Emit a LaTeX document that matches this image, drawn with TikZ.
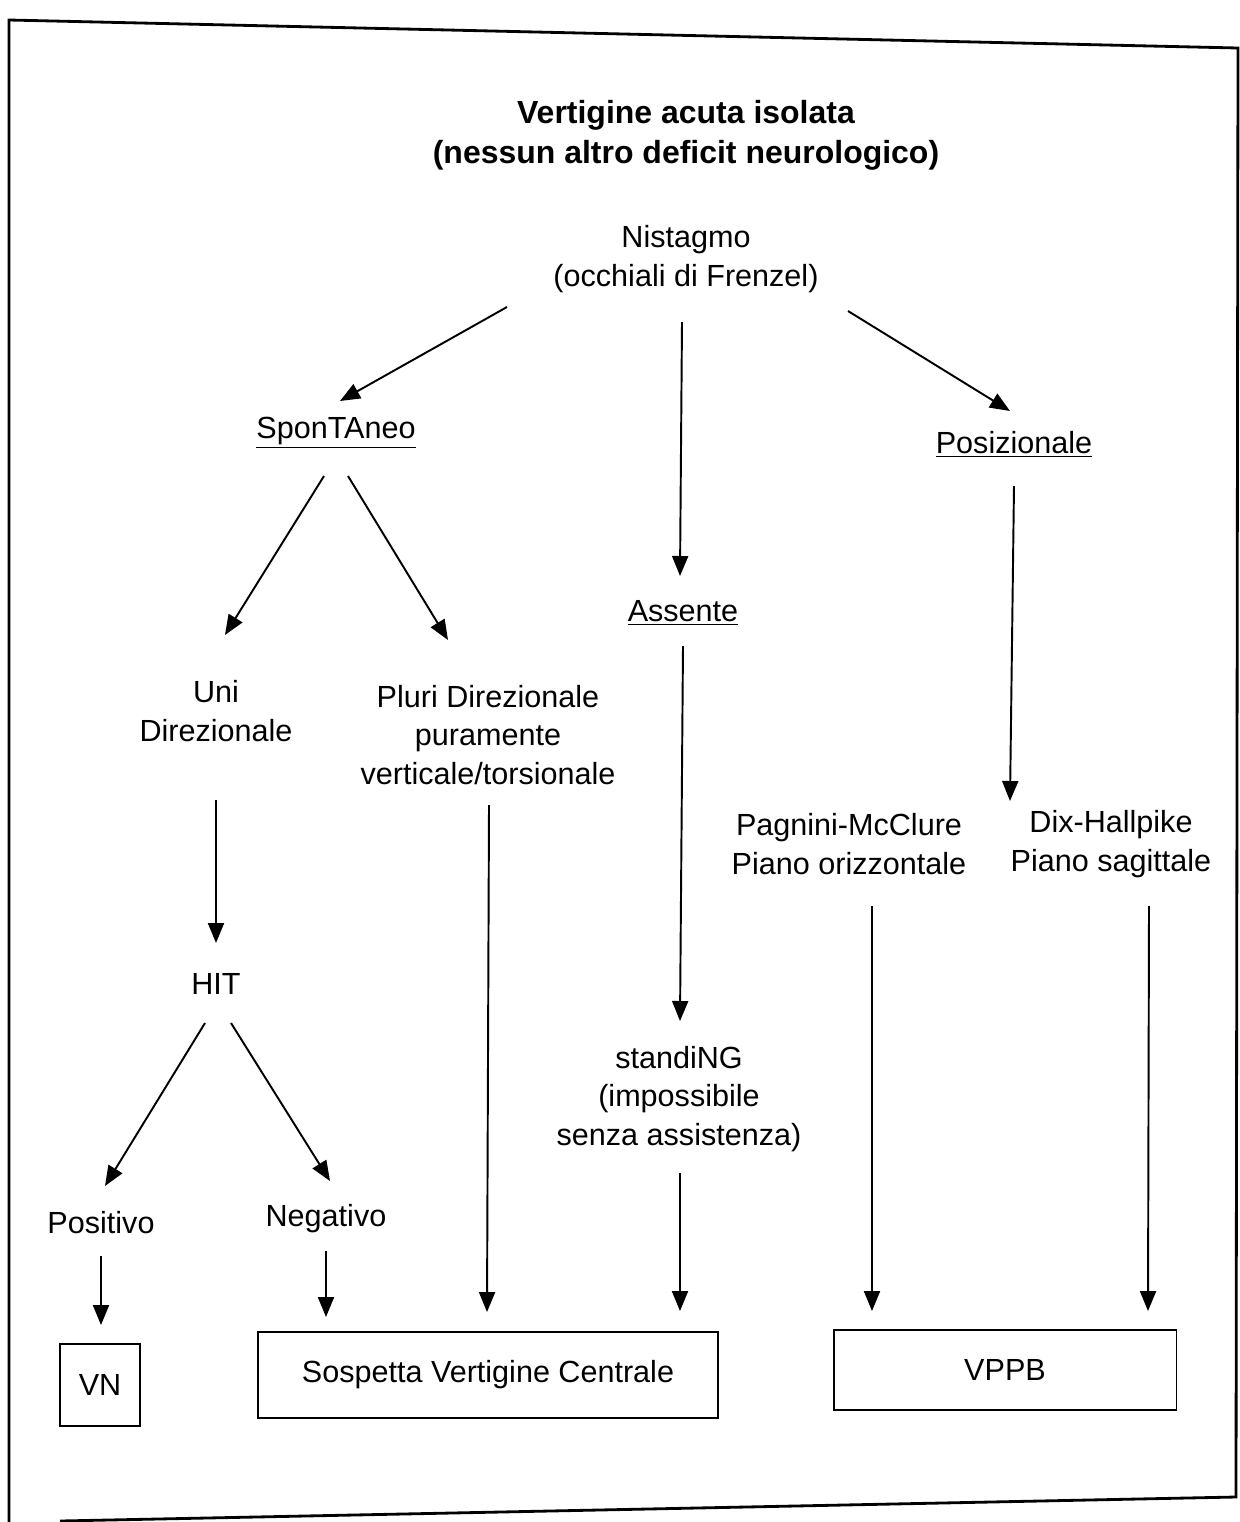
\documentclass[tikz,border=0pt]{standalone}
\usepackage{fontspec}
\setmainfont{Liberation Sans}
\usetikzlibrary{positioning,calc,arrows.meta}

\tikzset{
  testo/.style={align=center, inner sep=0pt, font=\fontsize{17.4}{21.8}\selectfont},
  titolo/.style={testo, font=\fontsize{18.2}{22.7}\selectfont\bfseries},
  esito/.style={draw, line width=1.1pt, inner sep=0pt, font=\fontsize{17.4}{21.8}\selectfont},
  freccia/.style={line width=1.1pt, -{Triangle[length=0.4cm, width=0.32cm]}},
}

\begin{document}
\begin{tikzpicture}[x=0.02cm, y=-0.02cm]
    \useasboundingbox (0,0) rectangle (1240,1522);
    \draw[line width=1.6pt] (9,1522) -- (9,20) -- (1238,48) -- (1236,1497) -- (60,1521);

    \node[titolo] (titolo) at (686,135) {Vertigine acuta isolata\\(nessun altro deficit neurologico)};
    \node[testo] (nist) at (686,259) {Nistagmo\\(occhiali di Frenzel)};
    \node[testo] (spon) at (336,433) {\underline{SponTAneo}};
    \node[testo] (posiz) at (1014,444) {\underline{Posizionale}};
    \node[testo] (ass) at (683,613) {\underline{Assente}};
    \node[testo] (uni) at (216,711) {Uni\\Direzionale};
    \node[testo] (pluri) at (488,735) {Pluri Direzionale\\puramente\\verticale/torsionale};
    \node[testo] (pag) at (849,844) {Pagnini-McClure\\Piano orizzontale};
    \node[testo] (dix) at (1111,844) {Dix-Hallpike\\Piano sagittale};
    \node[testo] (hit) at (216,984) {HIT};
    \node[testo] (stand) at (679,1099) {standiNG\\(impossibile\\senza assistenza)};
    \node[testo] (pos) at (101,1223) {Positivo};
    \node[testo] (neg) at (326,1219) {Negativo};

    \node[esito, minimum width=1.6cm, minimum height=1.64cm] (vn) at (100,1385) {VN};
    \node[esito, minimum width=9.2cm, minimum height=1.72cm] (sosp) at (488,1375) {Sospetta Vertigine Centrale};
    \node[esito, minimum width=6.86cm, minimum height=1.6cm] (vppb) at (1005,1370) {VPPB};

    \draw[freccia] ($(nist)+(-179,48)$) -- ($(spon)+(4,-32)$);
    \draw[freccia] ($(nist)+(-4,63)$) -- ($(ass)+(-3,-37)$);
    \draw[freccia] ($(nist)+(162,52)$) -- ($(posiz)+(-4,-33)$);
    \draw[freccia] ($(spon)+(-12,43)$) -- ($(uni)+(9,-76)$);
    \draw[freccia] ($(spon)+(12,43)$) -- ($(pluri)+(-40,-95)$);
    \draw[freccia] ($(ass)+(0,33)$) -- ($(stand)+(1,-78)$);
    \draw[freccia] ($(posiz)+(0,42)$) -- ($(dix)+(-101,-43)$);
    \draw[freccia] ($(uni)+(0,89)$) -- ($(hit)+(0,-41)$);
    \draw[freccia] ($(hit)+(-11,39)$) -- ($(pos)+(4,-37)$);
    \draw[freccia] ($(hit)+(15,39)$) -- ($(neg)+(4,-38)$);
    \draw[freccia] ($(pos)+(0,33)$) -- ($(vn.north)+(1,-18)$);
    \draw[freccia] ($(neg)+(0,32)$) -- ($(neg |- sosp.north)+(0,-14)$);
    \draw[freccia] ($(pluri)+(1,70)$) -- ($(sosp.north)+(-1,-19)$);
    \draw[freccia] ($(stand)+(1,74)$) -- ($(stand |- sosp.north)+(1,-20)$);
    \draw[freccia] ($(pag)+(23,62)$) -- ($(vppb.north)+(-133,-18)$);
    \draw[freccia] ($(dix)+(38,62)$) -- ($(vppb.north)+(143,-18)$);
\end{tikzpicture}
\end{document}
